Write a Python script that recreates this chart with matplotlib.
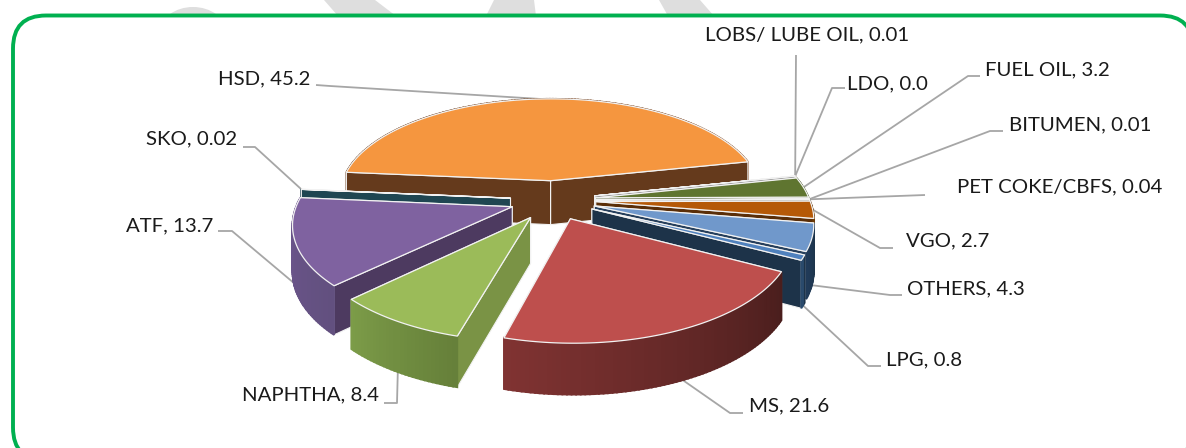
import numpy as np
import matplotlib

matplotlib.use("Agg")
import matplotlib.pyplot as plt
from matplotlib.patches import Ellipse, FancyBboxPatch, Polygon

plt.rcParams["font.family"] = ["Lato", "DejaVu Sans"]

# slices, counter-clockwise starting from the right edge of HSD
names = ["HSD", "SKO", "ATF", "NAPHTHA", "MS", "LPG", "OTHERS", "VGO",
         "PET COKE/CBFS", "BITUMEN", "FUEL OIL", "LDO", "LOBS/ LUBE OIL"]
values = [45.2, 0.02, 13.7, 8.4, 21.6, 0.8, 4.3, 2.7, 0.04, 0.01, 3.2, 0.0, 0.01]
value_text = ["45.2", "0.02", "13.7", "8.4", "21.6", "0.8", "4.3", "2.7", "0.04", "0.01", "3.2", "0.0", "0.01"]

top_colors = ["#F5963F", "#24505F", "#7F62A0", "#9BBB59", "#BE4F4D", "#4F81BD", "#7098CB",
              "#B55907", "#B8B8B0", "#C8C8C0", "#5F7530", "#A6A6A6", "#8C7060"]
side_colors = ["#653A1C", "#1F4652", "#4D3A60", "#7A9345", "#4A1E1D", "#1D3349", "#263F5C",
               "#5A2E08", "#888880", "#888880", "#3F4F20", "#808080", "#705040"]
wall_left = ["#8A5028", "#1F4652", "#6F5790", "#7C9C48", "#803332", "#2A4A6C", "#203A58",
             "#6A3A08", "#888880", "#888880", "#4A5C26", "#808080", "#705040"]
wall_right = ["#653A1C", "#1F4652", "#62507F", "#66803A", "#4A1E1D", "#1D3349", "#1D3349",
              "#5A2E08", "#888880", "#888880", "#3F4F20", "#808080", "#705040"]

# label placement: text left/centre, then where the leader leaves the label
label_xy = [(218, 79), (146, 139), (126, 226), (242, 395), (749, 406), (886, 360), (907, 289),
            (906, 241), (957, 187), (1009, 125), (985, 70), (847, 84), (705, 35)]
leader_start = [(316, 85), (243, 147), (218, 231), (384, 403), (743, 413), (881, 366), (902, 295),
                (893, 248), (925, 195), (1003, 131), (980, 76), (845, 88), (796, 55)]
leader_elbow = [(330, 86), (255, 147), (232, 231), (397, 403), (730, 413), (868, 366), (890, 295),
                (880, 248), (925, 195), (990, 131), (968, 76), (832, 88), (796, 55)]
leader_drop = [0, 0, 40, 45, 38, 45, 46, 0, 0, 0, 0, 0, 0]

draw_order = ["HSD", "LOBS/ LUBE OIL", "LDO", "FUEL OIL", "BITUMEN", "PET COKE/CBFS", "VGO",
              "OTHERS", "LPG", "SKO", "ATF", "NAPHTHA", "MS"]

START_DEG = 12.0
EXPLODE = 0.2
CX, CY = 553.0, 200.0
RX, RY = 214.0, 99.5
PERSP_X, PERSP_Y = 0.15, 0.15
HEIGHT = 45.0


def project(x, y, drop=0.0):
    """Pie plane to pixel position; drop is how far below the top surface."""
    x = np.asarray(x, dtype=float)
    y = np.asarray(y, dtype=float)
    px = CX + RX * x / (1 + PERSP_X * y)
    py = CY - RY * y / (1 + PERSP_Y * y) + drop * (1 - 0.12 * y)
    return px, py


def blend(c1, c2, t):
    a = np.array(matplotlib.colors.to_rgb(c1))
    b = np.array(matplotlib.colors.to_rgb(c2))
    return tuple(a + (b - a) * t)


def draw_slice(ax, a1, a2, idx):
    mid = np.radians((a1 + a2) / 2)
    ox, oy = EXPLODE * np.cos(mid), EXPLODE * np.sin(mid)
    theta = np.radians(np.linspace(a1, a2, max(int(a2 - a1), 2) + 1))
    rim_x = ox + np.cos(theta)
    rim_y = oy + np.sin(theta)

    # side faces, far ones first
    faces = []
    for end_x, end_y in [(rim_x[0], rim_y[0]), (rim_x[-1], rim_y[-1])]:
        faces.append(((oy + end_y) / 2, "radial", (end_x, end_y)))
    for k in range(len(theta) - 1):
        faces.append(((rim_y[k] + rim_y[k + 1]) / 2, "wall", k))
    faces.sort(key=lambda f: -f[0])

    for _, kind, info in faces:
        if kind == "radial":
            xs = np.array([ox, info[0]])
            ys = np.array([oy, info[1]])
            tx, ty = project(xs, ys)
            bx, by = project(xs, ys, HEIGHT)
            pts = np.column_stack([np.r_[tx, bx[::-1]], np.r_[ty, by[::-1]]])
            ax.add_patch(Polygon(pts, closed=True, facecolor=side_colors[idx],
                                 edgecolor="#F2F2F2", linewidth=0.8, joinstyle="round"))
        else:
            k = info
            t = k / max(len(theta) - 2, 1)
            col = blend(wall_left[idx], wall_right[idx], t)
            xs, ys = rim_x[k:k + 2], rim_y[k:k + 2]
            tx, ty = project(xs, ys)
            bx, by = project(xs, ys, HEIGHT)
            pts = np.column_stack([np.r_[tx, bx[::-1]], np.r_[ty, by[::-1]]])
            # thick same-colour edge hides the seams between strips
            ax.add_patch(Polygon(pts, closed=True, facecolor=col, edgecolor=col, linewidth=1.3))

    tx, ty = project(np.r_[ox, rim_x], np.r_[oy, rim_y])
    ax.add_patch(Polygon(np.column_stack([tx, ty]), closed=True, facecolor=top_colors[idx],
                         edgecolor="#F2F2F2", linewidth=0.9, joinstyle="round"))


fig = plt.figure(figsize=(11.86, 4.48), dpi=100)
ax = fig.add_axes([0, 0, 1, 1])
ax.set_xlim(0, 1186)
ax.set_ylim(448, 0)
ax.axis("off")

# grey page watermark peeking out above the box
for pts in [[(324, 0), (375, 0), (396, 16), (338, 16)],
            [(494, 0), (534, 0), (536, 16), (486, 16)],
            [(659, 0), (700, 0), (714, 16), (668, 16)]]:
    ax.add_patch(Polygon(pts, closed=True, facecolor="#DEDEDE", edgecolor="none", zorder=0))
ax.add_patch(Ellipse((193, 32), 66, 50, facecolor="#DEDEDE", edgecolor="none", zorder=0))

ax.add_patch(FancyBboxPatch((13, 15.5), 1180, 445,
                            boxstyle="round,pad=0,rounding_size=33",
                            facecolor="white", edgecolor="#00B050", linewidth=2.8, zorder=1))

sizes = np.array(values) * 360.0 / sum(values)
starts = START_DEG + np.r_[0, np.cumsum(sizes)[:-1]]
ends = starts + sizes

# leaders sit under the slices
for i in range(len(names)):
    mid = np.radians((starts[i] + ends[i]) / 2)
    ex = (1 + EXPLODE) * np.cos(mid)
    ey = (1 + EXPLODE) * np.sin(mid)
    px, py = project(ex, ey, leader_drop[i])
    ax.plot([leader_start[i][0], leader_elbow[i][0], px], [leader_start[i][1], leader_elbow[i][1], py],
            color="#A6A6A6", linewidth=1.3, zorder=2, solid_capstyle="butt")

for name in draw_order:
    i = names.index(name)
    before = len(ax.patches)
    draw_slice(ax, starts[i], ends[i], i)
    for patch in ax.patches[before:]:
        patch.set_zorder(3)

for i, name in enumerate(names):
    ax.text(label_xy[i][0], label_xy[i][1], f"{name}, {value_text[i]}", ha="left", va="center",
            fontsize=14.7, color="#1A1A1A", zorder=5)

fig.savefig("out.png", dpi=100)
